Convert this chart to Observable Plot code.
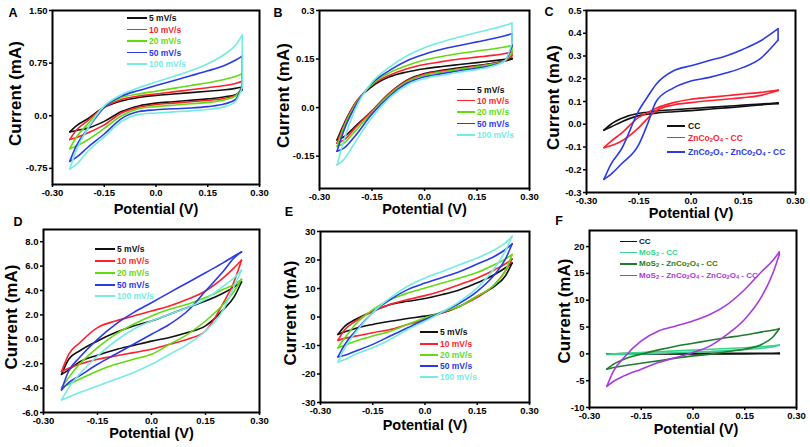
<!DOCTYPE html>
<html><head><meta charset="utf-8">
<script src="https://cdn.jsdelivr.net/npm/d3@7"></script>
<script src="https://cdn.jsdelivr.net/npm/@observablehq/plot@0.6"></script>
<style>
body{margin:0;background:#fff;}
#fig{position:relative;width:810px;height:447px;font-family:"Liberation Sans",Arial,sans-serif;font-weight:bold;overflow:hidden;background:#fff;}
.panel{position:absolute;}
.lgt{position:absolute;white-space:nowrap;line-height:1;transform:translateY(-50%);}
.lgl{position:absolute;height:1.8px;}
.letter{position:absolute;font-size:12.5px;transform:translate(-50%,-50%);line-height:1;}
sub{font-size:70%;vertical-align:-0.25em;line-height:0;}
</style></head><body><div id="fig"></div><script>
// ---------- shared axes ----------
const volts  = [-0.25,-0.23,-0.2,-0.15,-0.1,-0.05,0,0.05,0.1,0.15,0.2,0.23,0.25];
const voltsC = [-0.25,-0.23,-0.2,-0.15,-0.125,-0.1,-0.05,0,0.05,0.1,0.15,0.2,0.25];
const xTicks = [-0.3,-0.15,0,0.15,0.3];
const xTickText = ["-0.30","-0.15","0.0","0.15","0.30"];

const rateNames  = ["5 mV/s","10 mV/s","20 mV/s","50 mV/s","100 mV/s"];
const rateColors = ["#111111","#ff1f2d","#62dc10","#2b3ae6","#74ece2"];
const cNames  = ["CC","ZnCo<sub>2</sub>O<sub>4</sub> - CC","ZnCo<sub>2</sub>O<sub>4</sub> - ZnCo<sub>2</sub>O<sub>4</sub> - CC"];
const cColors = ["#111111","#ff1f2d","#2b3ae6"];
const fNames  = ["CC","MoS<sub>2</sub> - CC","MoS<sub>2</sub> - ZnCo<sub>2</sub>O<sub>4</sub> - CC","MoS<sub>2</sub> - ZnCo<sub>2</sub>O<sub>4</sub> - ZnCo<sub>2</sub>O<sub>4</sub> - CC"];
const fColors = ["#111111","#36d48c","#1e7d2c","#a83ae0"];

// ---------- panel A (mA) ----------
const A_fwd = [
 [-0.23,-0.14,-0.05,0.12,0.21,0.26,0.29,0.31,0.33,0.35,0.37,0.39,0.41],
 [-0.34,-0.2,-0.08,0.12,0.23,0.28,0.31,0.34,0.37,0.4,0.43,0.46,0.49],
 [-0.47,-0.3,-0.13,0.13,0.26,0.31,0.35,0.39,0.43,0.47,0.52,0.56,0.6],
 [-0.65,-0.42,-0.2,0.12,0.28,0.36,0.43,0.5,0.57,0.64,0.72,0.79,0.85],
 [-0.76,-0.48,-0.2,0.14,0.3,0.4,0.48,0.56,0.64,0.74,0.88,1.0,1.15]];
const A_rev = [
 [-0.23,-0.21,-0.18,-0.08,0.06,0.14,0.18,0.2,0.22,0.24,0.27,0.3,0.37],
 [-0.34,-0.31,-0.25,-0.13,0.04,0.12,0.16,0.18,0.2,0.22,0.25,0.29,0.4],
 [-0.47,-0.43,-0.35,-0.18,0.0,0.1,0.13,0.15,0.17,0.19,0.23,0.28,0.42],
 [-0.65,-0.59,-0.46,-0.26,-0.04,0.06,0.085,0.1,0.11,0.13,0.17,0.23,0.42],
 [-0.76,-0.69,-0.52,-0.3,-0.08,0.02,0.04,0.055,0.07,0.09,0.13,0.2,0.4]];

// ---------- panel B ----------
const B_fwd = [
 [-0.1,-0.05,0.01,0.065,0.095,0.11,0.12,0.127,0.133,0.139,0.145,0.149,0.152],
 [-0.11,-0.055,0.01,0.07,0.1,0.12,0.133,0.142,0.15,0.156,0.162,0.167,0.172],
 [-0.12,-0.06,0.005,0.072,0.108,0.13,0.147,0.158,0.167,0.175,0.182,0.187,0.192],
 [-0.135,-0.07,0.0,0.075,0.115,0.145,0.165,0.18,0.192,0.203,0.214,0.222,0.228],
 [-0.178,-0.1,-0.01,0.078,0.125,0.16,0.185,0.203,0.218,0.232,0.245,0.254,0.261]];
const B_rev = [
 [-0.1,-0.09,-0.06,-0.01,0.045,0.085,0.105,0.115,0.123,0.13,0.138,0.144,0.15],
 [-0.11,-0.1,-0.065,-0.01,0.045,0.083,0.103,0.113,0.12,0.128,0.137,0.145,0.16],
 [-0.12,-0.11,-0.075,-0.015,0.04,0.08,0.1,0.11,0.118,0.126,0.135,0.145,0.17],
 [-0.135,-0.125,-0.09,-0.02,0.035,0.075,0.095,0.105,0.114,0.122,0.132,0.145,0.19],
 [-0.178,-0.16,-0.11,-0.03,0.03,0.07,0.09,0.1,0.11,0.118,0.13,0.145,0.2]];

// ---------- panel C (on voltsC) ----------
const C_fwd = [
 [-0.026,0.0,0.025,0.048,0.053,0.058,0.064,0.069,0.074,0.079,0.084,0.089,0.094],
 [-0.103,-0.075,-0.04,0.03,0.05,0.07,0.095,0.11,0.118,0.125,0.133,0.14,0.15],
 [-0.242,-0.176,-0.11,0.06,0.12,0.176,0.235,0.257,0.279,0.3,0.33,0.367,0.42]];
const C_rev = [
 [-0.026,-0.012,0.01,0.038,0.044,0.049,0.055,0.06,0.066,0.072,0.078,0.085,0.09],
 [-0.103,-0.095,-0.075,-0.015,0.025,0.06,0.085,0.095,0.103,0.11,0.117,0.127,0.148],
 [-0.242,-0.22,-0.175,-0.09,0.0,0.1,0.16,0.19,0.205,0.225,0.25,0.29,0.37]];

// ---------- panel D ----------
const D_fwd = [
 [-2.87,-1.64,-0.96,-0.14,0.55,1.09,1.5,2.05,2.6,3.14,3.8,4.3,4.7],
 [-2.65,-1.23,-0.3,0.96,1.5,1.91,2.32,2.73,3.28,3.96,5.05,5.87,6.48],
 [-3.96,-3.14,-2.05,-0.68,0.41,1.23,1.91,2.46,2.87,3.42,4.1,4.5,4.92],
 [-4.15,-2.6,-1.5,0.0,1.23,2.19,3.0,3.83,4.64,5.46,6.28,6.83,7.16],
 [-4.97,-3.96,-2.87,-1.37,-0.14,0.82,1.5,2.05,2.6,3.28,4.37,5.05,5.66]];
const D_rev = [
 [-2.87,-2.5,-1.85,-1.3,-0.85,-0.5,-0.15,0.15,0.55,1.1,2.45,3.5,4.7],
 [-2.65,-2.38,-2.05,-1.64,-1.37,-1.09,-0.82,-0.41,0.0,0.68,3.0,4.78,6.48],
 [-3.96,-3.69,-3.28,-2.6,-2.05,-1.64,-1.23,-0.41,0.41,1.5,2.87,3.96,4.92],
 [-4.15,-3.55,-3.0,-2.05,-1.23,-0.41,0.41,1.23,2.32,3.96,5.6,6.69,7.16],
 [-4.97,-4.73,-4.37,-3.83,-3.28,-2.73,-2.05,-1.23,-0.41,0.68,2.46,4.37,5.66]];

// ---------- panel E ----------
const E_fwd = [
 [-6.1,-3.2,-0.9,2.0,4.4,5.5,6.5,7.9,9.6,12.0,14.9,17.2,18.9],
 [-8.2,-4.4,-1.5,2.0,4.4,6.1,7.5,9.2,11.4,13.7,16.6,18.6,20.3],
 [-10.8,-7.3,-2.6,2.6,6.1,8.4,10.2,11.9,13.7,15.6,18.4,20.3,21.9],
 [-14.0,-9.6,-5.0,1.5,6.1,9.6,11.9,13.9,16.0,18.6,21.3,23.6,25.6],
 [-15.8,-10.8,-5.5,1.5,6.7,10.8,13.7,16.0,18.4,20.7,23.6,25.9,28.3]];
const E_rev = [
 [-6.1,-5.2,-4.0,-2.6,-1.5,-0.5,0.3,1.5,3.8,7.3,10.8,14.3,18.9],
 [-8.2,-7.5,-6.7,-5.5,-4.4,-2.6,-0.9,1.5,3.8,6.9,11.4,16.0,20.3],
 [-10.8,-9.9,-8.5,-6.7,-5.0,-2.6,-0.3,1.8,3.8,7.3,11.4,16.0,21.9],
 [-14.0,-13.4,-12.0,-9.6,-6.7,-3.8,-0.9,1.8,4.9,9.0,14.9,20.1,25.6],
 [-15.8,-14.9,-13.1,-10.8,-7.9,-4.4,-1.5,1.8,5.5,10.2,17.2,23.0,28.3]];

// ---------- panel F ----------
const F_fwd = [
 [0.0,0.02,0.04,0.06,0.07,0.08,0.09,0.1,0.1,0.11,0.12,0.12,0.13],
 [-0.1,0.0,0.1,0.25,0.4,0.55,0.7,0.85,1.0,1.15,1.35,1.5,1.65],
 [-2.85,-1.9,-1.0,-0.06,0.74,1.43,1.98,2.54,3.04,3.53,4.1,4.4,4.7],
 [-6.08,-3.16,-0.68,2.42,4.28,5.2,6.14,7.38,9.24,12.0,15.4,17.3,19.0]];
const F_rev = [
 [0.0,-0.02,-0.03,-0.03,-0.02,-0.02,-0.01,-0.01,0.0,0.0,0.01,0.02,0.03],
 [-0.1,-0.12,-0.1,-0.02,0.08,0.2,0.32,0.45,0.6,0.8,1.05,1.3,1.6],
 [-2.85,-2.54,-2.23,-1.74,-1.3,-0.8,-0.37,-0.06,0.43,0.87,1.8,3.04,4.7],
 [-6.08,-5.1,-4.1,-2.85,-1.61,-0.68,0.25,1.49,3.66,6.45,10.8,14.8,18.5]];

// ---------- y tick labels ----------
const A_yt = [-0.75,0,0.75,1.5], A_ytl = ["-0.75","0.0","0.75","1.50"];
const B_yt = [-0.15,0,0.15,0.3], B_ytl = ["-0.15","0.0","0.15","0.3"];
const C_yt = [-0.3,-0.2,-0.1,0,0.1,0.2,0.3,0.4,0.5], C_ytl = ["-0.3","-0.2","-0.1","0.0","0.1","0.2","0.3","0.4","0.5"];
const D_yt = [-6,-4,-2,0,2,4,6,8], D_ytl = ["-6.0","-4.0","-2.0","0.0","2.0","4.0","6.0","8.0"];
const E_yt = [-30,-20,-10,0,10,20,30], E_ytl = ["-30","-20","-10","0","10","20","30"];
const F_yt = [-10,-5,0,5,10,15,20], F_ytl = ["-10","-5","0","5","10","15","20"];

function loops(vx, fwd, rev, colors) {
  const rows = [];
  const n = vx.length - 1;
  fwd.forEach((f, s) => {
    const r = rev[s];
    vx.forEach((v, i) => rows.push({k: s + "u", x: v, y: f[i], c: colors[s]}));
    vx.forEach((v, i) => rows.push({k: s + "d", x: v, y: r[i], c: colors[s]}));
    rows.push({k: s + "e", x: vx[n], y: f[n], c: colors[s]}, {k: s + "e", x: vx[n], y: r[n], c: colors[s]});
  });
  return rows;
}

const panels = [
 {L:"A", left:0,   top:0,   w:270, h:224, ml:52, mr:11, mt:10, mb:40, yd:[-0.98,1.5], yt:A_yt, ytl:A_ytl, vx:volts,  f:A_fwd, r:A_rev, col:rateColors, xl:[0,25], yl:[-37,-4],
  letter:[13,13], names:rateNames, lg:{x1:127,x2:147,tx:149,ys:[18,29.5,41,52.5,64]}},
 {L:"B", left:270, top:0,   w:270, h:224, ml:49, mr:11, mt:10, mb:36, yd:[-0.25,0.3], yt:B_yt, ytl:B_ytl, vx:volts,  f:B_fwd, r:B_rev, col:rateColors, xl:[0,21], yl:[-36,-4],
  letter:[278,13], names:rateNames, lg:{x1:457,x2:475,tx:477,ys:[89.5,100.5,112,123.5,135]}},
 {L:"C", left:540, top:0,   w:270, h:224, ml:46, mr:15, mt:10, mb:32, yd:[-0.3,0.5], yt:C_yt, ytl:C_ytl, vx:voltsC, f:C_fwd, r:C_rev, col:cColors, xl:[0,20.5], yl:[-33,-4],
  letter:[549,12], names:cNames, lg:{x1:667,x2:685,tx:688,ys:[126,137.5,152]}},
 {L:"D", left:0,   top:224, w:270, h:223, ml:43, mr:11, mt:5,  mb:35, yd:[-6,9], yt:D_yt, ytl:D_ytl, vx:volts,  f:D_fwd, r:D_rev, col:rateColors, xl:[0,21], yl:[-32,-4],
  letter:[18,222], names:rateNames, lg:{x1:95,x2:115,tx:117,ys:[249,261,273,285,296]}},
 {L:"E", left:270, top:224, w:270, h:223, ml:50, mr:11, mt:7,  mb:45, yd:[-30,30], yt:E_yt, ytl:E_ytl, vx:volts,  f:E_fwd, r:E_rev, col:rateColors, xl:[0,23], yl:[-30,-4],
  letter:[289,212], names:rateNames, lg:{x1:420,x2:438,tx:440,ys:[332,344,355,366,377]}},
 {L:"F", left:540, top:224, w:270, h:223, ml:49, mr:14, mt:6,  mb:40, yd:[-10,23], yt:F_yt, ytl:F_ytl, vx:volts,  f:F_fwd, r:F_rev, col:fColors, xl:[3,22], yl:[-25,-8],
  letter:[559,221], names:fNames, lg:{x1:620,x2:637,tx:639,ys:[241.5,252.5,264,275.5]}}
];

const fig = document.getElementById("fig");
for (const p of panels) {
  const rows = loops(p.vx, p.f, p.r, p.col);
  const chart = Plot.plot({
    width: p.w, height: p.h,
    marginLeft: p.ml, marginRight: p.mr, marginTop: p.mt, marginBottom: p.mb,
    style: {fontFamily: '"Liberation Sans", Arial, sans-serif', fontSize: "9.5px", fontWeight: "bold", background: "transparent", color: "#000", overflow: "visible"},
    x: {domain: [-0.3, 0.3]},
    y: {domain: p.yd},
    color: {type: "identity"},
    marks: [
      Plot.line(rows, {x: "x", y: "y", z: "k", stroke: "c", strokeWidth: 1.6, curve: "monotone-x"}),
      Plot.frame({stroke: "#000", strokeWidth: 2}),
      Plot.axisX({ticks: xTicks, tickFormat: d => xTickText[xTicks.indexOf(d)], tickSize: 3, tickPadding: 2, label: null, strokeWidth: 1.5}),
      Plot.axisY({ticks: p.yt, tickFormat: d => p.ytl[p.yt.indexOf(d)], tickSize: 3, tickPadding: 2, label: null, strokeWidth: 1.5}),
      Plot.text(["Potential (V)"], {text: d => d, frameAnchor: "bottom", textAnchor: "middle", lineAnchor: "middle", dx: p.xl[0], dy: p.xl[1], fontSize: 14.5, fontWeight: "bold"}),
      Plot.text(["Current (mA)"], {text: d => d, frameAnchor: "left", textAnchor: "middle", lineAnchor: "middle", dx: p.yl[0], dy: p.yl[1], rotate: -90, fontSize: 17, fontWeight: "bold"})
    ]
  });
  const holder = document.createElement("div");
  holder.className = "panel";
  holder.style.left = p.left + "px";
  holder.style.top = p.top + "px";
  holder.appendChild(chart);
  fig.appendChild(holder);

  // panel letter
  const let_ = document.createElement("div");
  let_.className = "letter";
  let_.style.left = p.letter[0] + "px";
  let_.style.top = p.letter[1] + "px";
  let_.textContent = p.L;
  fig.appendChild(let_);

  // legend
  const fs = p.L === "F" ? 8 : 8.5;
  p.names.forEach((nm, i) => {
    const ln = document.createElement("div");
    ln.className = "lgl";
    ln.style.left = p.lg.x1 + "px";
    ln.style.width = (p.lg.x2 - p.lg.x1) + "px";
    ln.style.top = (p.lg.ys[i] - 0.9) + "px";
    ln.style.background = p.col[i];
    fig.appendChild(ln);
    const tx = document.createElement("div");
    tx.className = "lgt";
    tx.style.left = p.lg.tx + "px";
    tx.style.top = p.lg.ys[i] + "px";
    tx.style.fontSize = fs + "px";
    tx.style.color = p.col[i];
    tx.innerHTML = nm;
    fig.appendChild(tx);
  });
}
</script></body></html>
